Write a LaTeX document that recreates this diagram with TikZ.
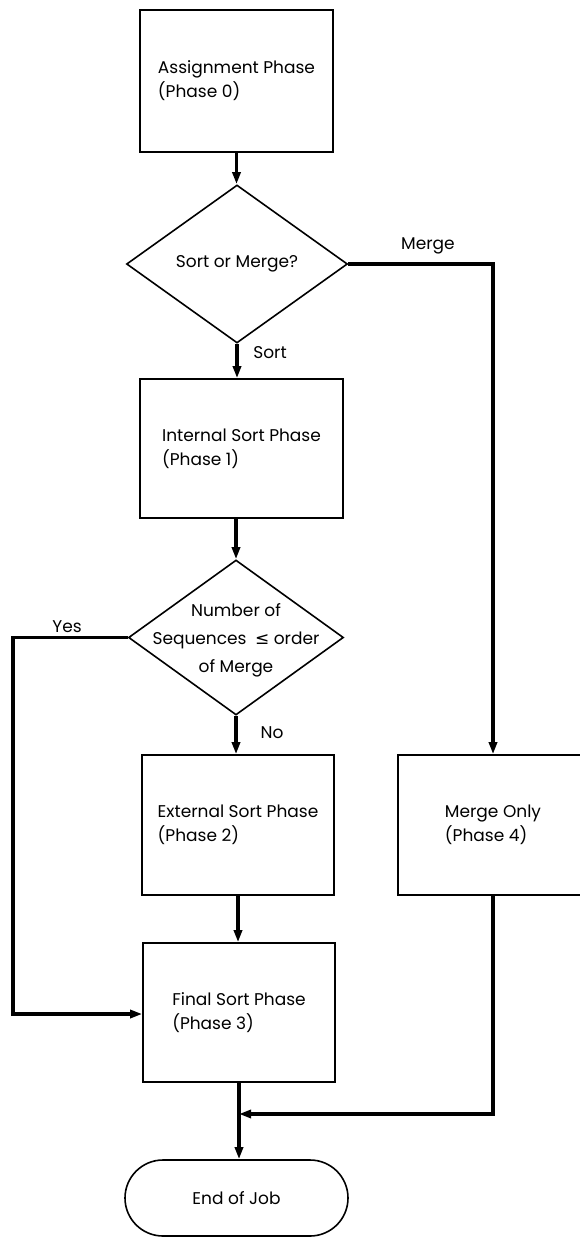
\documentclass[tikz,border=0pt]{standalone}
\usepackage{fontspec}
\setmainfont{Poppins}
\newfontfamily\symfont{DejaVu Sans}
\usetikzlibrary{shapes.geometric,arrows.meta}
\begin{document}
\begin{tikzpicture}[x=1pt,y=-1pt,
  every node/.style={font=\fontsize{17}{24}\selectfont},
  procbox/.style={draw, line width=1.6pt, rectangle, inner sep=0pt, align=left},
  decision/.style={draw, line width=1.6pt, diamond, inner sep=0pt},
  terminal/.style={draw, line width=1.6pt, rectangle, rounded corners=38pt, inner sep=0pt},
  flow/.style={line width=3.6pt, -{Triangle[length=12pt,width=8pt]}},
  lbl/.style={inner sep=0pt}]
\useasboundingbox (0,0) rectangle (579,1238);
\fill[white] (0,0) rectangle (579,1238);

\node[procbox, minimum width=193pt, minimum height=142pt] (p0) at (236.5,81) {Assignment Phase\\(Phase 0)};
\node[decision, minimum width=221pt, minimum height=158pt] (d1) at (237,264) {};
\node[lbl] (t1) at (d1.center) {Sort or Merge?};
\node[procbox, minimum width=203pt, minimum height=139pt] (p1) at (241.5,448.5) {Internal Sort Phase\\(Phase 1)};
\node[decision, minimum width=215pt, minimum height=155pt] (d2) at (236,637.5) {};
\node[lbl, align=center, font=\fontsize{17}{28}\selectfont] (t2) at ([yshift=-3pt]d2.center) {Number of\\Sequences\enspace{\symfont ≤} order\\of Merge};
\node[procbox, minimum width=192pt, minimum height=140pt] (p2) at (238,825) {External Sort Phase\\(Phase 2)};
\node[procbox, minimum width=190pt, minimum height=140pt] (p4) at (493,825) {Merge Only\\(Phase 4)};
\node[procbox, minimum width=192pt, minimum height=139pt] (p3) at (239,1012.5) {Final Sort Phase\\(Phase 3)};
\node[terminal, minimum width=223pt, minimum height=76pt] (end) at (236.5,1198) {End of Job};

\node[lbl] (lsort) at (270,353) {Sort};
\node[lbl] (lmerge) at (428,246) {Merge};
\node[lbl] (lyes) at (67,627) {Yes};
\node[lbl] (lno) at (272,733) {No};

\coordinate (j) at (239,1114);
\coordinate (yc) at (13,1014);

\draw[flow] (p0.south) -- (p0.south |- d1.north);
\draw[flow] (d1.south) -- (d1.south |- p1.north);
\draw[flow] (p1.south -| d2.north) -- (d2.north);
\draw[flow] (d2.south) -- (d2.south |- p2.north);
\draw[flow] (p2.south) -- (p2.south |- p3.north);
\draw[flow] (p3.south) -- (p3.south |- end.north);
\draw[flow] (d1.east) -| (p4.north);
\draw[flow] (p4.south) |- (j);
\draw[flow] (d2.west) -| (yc) -- (yc -| p3.west);
\end{tikzpicture}
\end{document}
